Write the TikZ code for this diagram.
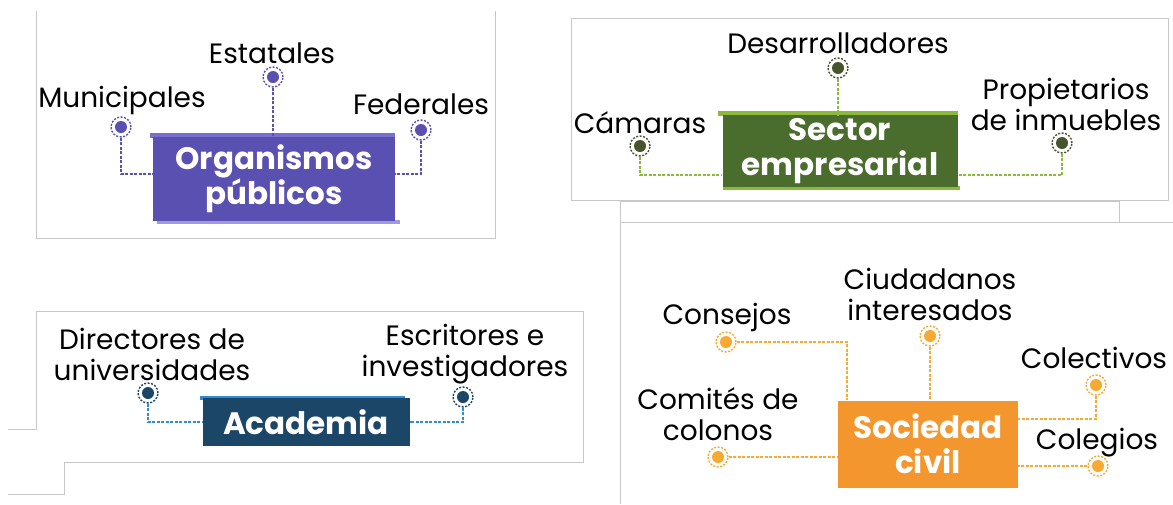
\documentclass[tikz,border=0pt]{standalone}
\usepackage{fontspec}
\setmainfont{Poppins}
\usetikzlibrary{calc}
\definecolor{purp}{RGB}{90,80,178}
\definecolor{purpL}{RGB}{120,110,205}
\definecolor{grn}{RGB}{74,108,44}
\definecolor{grnL}{RGB}{140,185,60}
\definecolor{grnD}{RGB}{70,85,45}
\definecolor{navy}{RGB}{28,70,104}
\definecolor{navyL}{RGB}{50,140,210}
\definecolor{orng}{RGB}{243,150,45}
\definecolor{orngL}{RGB}{246,170,50}
\definecolor{panel}{RGB}{200,200,200}
\tikzset{
  panelline/.style={draw=panel, line width=0.9pt},
  lbl/.style={font=\fontsize{28}{31}\selectfont, text=black, align=center, inner sep=0pt},
  boxn/.style={fill=#1, text=white, font=\bfseries\fontsize{31}{35}\selectfont, align=center, inner sep=0pt},
  dotn/.style={circle, draw=#1, dashed, dash pattern=on 2pt off 1.5pt, line width=1.4pt, minimum size=20pt, inner sep=0pt,
    path picture={\fill[#1] (path picture bounding box.center) circle[radius=6pt];}},
  conn/.style={draw=#1, line width=1.8pt, dash pattern=on 3pt off 1.5pt},
}
\begin{document}
\begin{tikzpicture}[x=1pt,y=-1pt]
\useasboundingbox (0,0) rectangle (1173,504);
\fill[white] (0,0) rectangle (1173,504);
% panels
\draw[panelline] (36,11) -- (36,238) -- (495,238) -- (495,11);
\draw[panelline] (571,18) rectangle (1168,200);
\draw[panelline] (620,201) rectangle (1119,222);
\draw[panelline] (620,222) -- (620,504);
\draw[panelline] (1119,222) -- (1173,222);
\draw[panelline] (8,429) -- (36,429) -- (36,311) -- (583,311) -- (583,462) -- (64,462) -- (64,494) -- (8,494);

% ---------- Organismos publicos ----------
\fill[purpL] (150,133) rectangle (395,138);
\fill[purpL!70] (157,220) rectangle (400,224);
\node[boxn=purp, minimum width=242pt, minimum height=84pt] (op) at (274,179) {Organismos\\públicos};
\node[lbl] (lEst) at (272,53) {Estatales};
\node[lbl] (lMun) at (122,100) {Municipales};
\node[lbl] (lFed) at (421,104) {Federales};
\node[dotn=purp] (dEst) at (273,77) {};
\node[dotn=purp] (dMun) at (121,127) {};
\node[dotn=purp] (dFed) at (421,130) {};
\draw[conn=purp] (dEst) -- (dEst |- op.north);
\draw[conn=purp] (dMun) |- ([yshift=5pt]op.west);
\draw[conn=purp] (dFed) |- ([yshift=5pt]op.east);

% ---------- Sector empresarial ----------
\fill[grnL] (718,111) rectangle (958,116);
\fill[grnL] (723,186) rectangle (960,190);
\node[boxn=grn, minimum width=235pt, minimum height=72pt] (se) at (840,151) {Sector\\empresarial};
\node[lbl] (lDes) at (838,43) {Desarrolladores};
\node[lbl] (lCam) at (640,123) {Cámaras};
\node[lbl] (lPro) at (1066,104) {Propietarios\\de inmuebles};
\node[dotn=grnD] (dDes) at (838,68) {};
\node[dotn=grnD] (dCam) at (640,146) {};
\node[dotn=grnD] (dPro) at (1062,143) {};
\draw[conn=grnL] (dDes) -- (dDes |- se.north);
\draw[conn=grnL] (dCam) |- ([yshift=-24pt]se.west);
\draw[conn=grnL] (dPro) |- ([yshift=-24pt]se.east);

% ---------- Academia ----------
\fill[navyL] (200,396) rectangle (405,400);
\node[boxn=navy, minimum width=207pt, minimum height=48pt] (ac) at (306,422) {Academia};
\node[lbl] (lDir) at (152,354) {Directores de\\universidades};
\node[lbl] (lEsc) at (465,354) {Escritores e\\investigadores};
\node[dotn=navy] (dDir) at (148,393) {};
\node[dotn=navy] (dEsc) at (463,397) {};
\draw[conn=navyL] (dDir) |- (ac.west);
\draw[conn=navyL] (dEsc) |- (ac.east);

% ---------- Sociedad civil ----------
\node[boxn=orng, minimum width=180pt, minimum height=87pt] (sc) at (928,444) {Sociedad\\civil};
\node[lbl] (lCiu) at (930,294) {Ciudadanos\\interesados};
\node[lbl] (lCon) at (727,317) {Consejos};
\node[lbl] (lCom) at (718,414) {Comités de\\colonos};
\node[lbl] (lCol) at (1094,358) {Colectivos};
\node[lbl] (lCog) at (1097,443) {Colegios};
\node[dotn=orngL] (dCiu) at (930,336) {};
\node[dotn=orngL] (dCon) at (726,342) {};
\node[dotn=orngL] (dCom) at (718,457) {};
\node[dotn=orngL] (dCol) at (1096,385) {};
\node[dotn=orngL] (dCog) at (1098,466) {};
\draw[conn=orngL] (dCiu) -- (dCiu |- sc.north);
\draw[conn=orngL] (dCon) -| ([xshift=9pt]sc.north west);
\draw[conn=orngL] (dCom) -- (dCom -| sc.west);
\draw[conn=orngL] (dCol) |- ([yshift=25pt]sc.east);
\draw[conn=orngL] (dCog) -- (dCog -| sc.east);
\end{tikzpicture}
\end{document}
